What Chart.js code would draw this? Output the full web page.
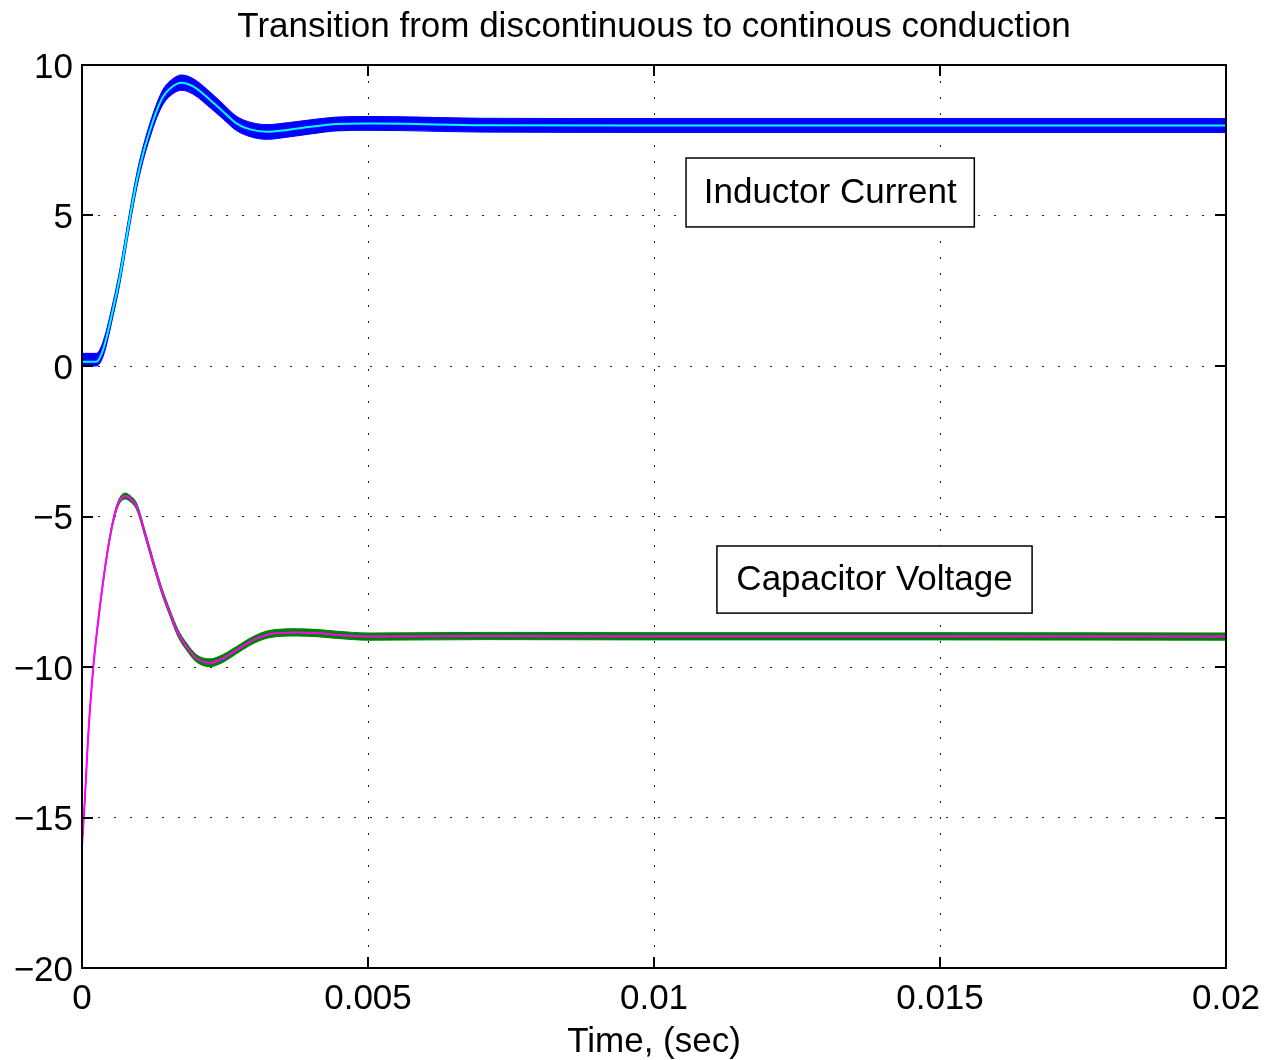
<!DOCTYPE html>
<html>
<head>
<meta charset="utf-8">
<script src="https://cdn.jsdelivr.net/npm/chart.js@4"></script>
<style>
  body { margin: 0; background: #fff; }
  #wrap { width: 1268px; height: 1060px; }
</style>
</head>
<body>
<div id="wrap"><canvas id="myChart" width="1268" height="1060"></canvas></div>
<script>
// inductor current (time in sec, value), center trace and ripple envelope
const iTime = [0, 0.00025, 0.00037, 0.00055, 0.00066, 0.00084, 0.00096, 0.00107, 0.00119, 0.00131,
  0.00142, 0.00154, 0.00174, 0.00195, 0.00224, 0.00247, 0.0027, 0.00294, 0.00323, 0.00358,
  0.004, 0.00445, 0.005, 0.0056, 0.007, 0.01, 0.015, 0.02];
const iCenter = [0.14, 0.14, 0.55, 1.95, 2.95, 4.96, 6.18, 7.07, 7.84, 8.5,
  8.95, 9.22, 9.41, 9.28, 8.84, 8.45, 8.06, 7.86, 7.78, 7.84,
  7.95, 8.04, 8.06, 8.05, 8.0, 7.99, 7.99, 7.99];
const iUpper = [0.42, 0.42, 0.82, 2.18, 3.19, 5.2, 6.42, 7.3, 8.08, 8.74,
  9.2, 9.47, 9.67, 9.54, 9.1, 8.7, 8.3, 8.1, 8.02, 8.08,
  8.18, 8.27, 8.29, 8.28, 8.23, 8.22, 8.22, 8.22];
const iLower = [0.0, 0.0, 0.32, 1.72, 2.71, 4.72, 5.94, 6.83, 7.6, 8.26,
  8.7, 8.97, 9.16, 9.02, 8.58, 8.2, 7.82, 7.62, 7.53, 7.6,
  7.71, 7.81, 7.83, 7.82, 7.77, 7.76, 7.76, 7.76];

// capacitor voltage
const vTime = [0, 0.000052, 0.000111, 0.000198, 0.000285, 0.000373, 0.00046, 0.000548, 0.000635, 0.000752,
  0.000868, 0.000956, 0.0011, 0.00125, 0.00139, 0.00154, 0.00168, 0.00183, 0.002, 0.00224,
  0.00247, 0.0027, 0.003, 0.00329, 0.00375, 0.00416, 0.00445, 0.00503, 0.00708, 0.01, 0.015, 0.02];
const vCenter = [-15.97, -14.31, -12.2, -9.99, -8.44, -7.11, -6.0, -5.12, -4.56, -4.32,
  -4.45, -4.67, -5.56, -6.56, -7.44, -8.22, -8.88, -9.33, -9.71, -9.86,
  -9.71, -9.44, -9.1, -8.9, -8.85, -8.88, -8.93, -8.99, -8.97, -8.98, -8.98, -8.99];
const vUpper = [-15.93, -14.26, -12.14, -9.92, -8.36, -7.03, -5.92, -5.04, -4.47, -4.22,
  -4.35, -4.56, -5.45, -6.45, -7.33, -8.11, -8.76, -9.21, -9.59, -9.73,
  -9.58, -9.32, -8.98, -8.78, -8.73, -8.76, -8.81, -8.87, -8.85, -8.86, -8.86, -8.87];
const vLower = [-16.01, -14.36, -12.26, -10.06, -8.52, -7.19, -6.08, -5.2, -4.65, -4.42,
  -4.55, -4.78, -5.67, -6.67, -7.55, -8.33, -9.0, -9.45, -9.83, -9.99,
  -9.84, -9.56, -9.22, -9.02, -8.97, -9.0, -9.05, -9.11, -9.09, -9.1, -9.1, -9.11];

const xTicks = [0, 0.005, 0.01, 0.015, 0.02];
const xTickLabels = ["0", "0.005", "0.01", "0.015", "0.02"];
const yTicks = [-20, -15, -10, -5, 0, 5, 10];
const yTickLabels = ["\u221220", "\u221215", "\u221210", "\u22125", "0", "5", "10"];

const FONT = "'Liberation Sans', Arial, Helvetica, sans-serif";

const pts = (xs, ys) => xs.map((x, i) => ({ x: x, y: ys[i] }));

const lineBase = {
  pointRadius: 0,
  cubicInterpolationMode: "monotone",
};

// MATLAB-like box, inward ticks and text boxes
const boxPlugin = {
  id: "matlabBox",
  afterDatasetsDraw(chart, args, opts) {
    const { ctx, chartArea: a, scales } = chart;
    const tl = 11;
    ctx.save();
    ctx.strokeStyle = "#000";
    ctx.lineWidth = 2;
    ctx.beginPath();
    xTicks.forEach((v) => {
      const px = Math.round(scales.x.getPixelForValue(v));
      ctx.moveTo(px, a.bottom); ctx.lineTo(px, a.bottom - tl);
      ctx.moveTo(px, a.top); ctx.lineTo(px, a.top + tl);
    });
    yTicks.forEach((v) => {
      const py = Math.round(scales.y.getPixelForValue(v));
      ctx.moveTo(a.left, py); ctx.lineTo(a.left + tl, py);
      ctx.moveTo(a.right, py); ctx.lineTo(a.right - tl, py);
    });
    ctx.stroke();
    ctx.strokeRect(a.left, a.top, a.right - a.left, a.bottom - a.top);

    // text boxes
    ctx.font = "35px " + FONT;
    ctx.textAlign = "center";
    ctx.textBaseline = "middle";
    opts.labels.forEach((lb) => {
      const x0 = scales.x.getPixelForValue(lb.x0);
      const x1 = scales.x.getPixelForValue(lb.x1);
      const y0 = scales.y.getPixelForValue(lb.y0);
      const y1 = scales.y.getPixelForValue(lb.y1);
      ctx.fillStyle = "#fff";
      ctx.fillRect(x0, y0, x1 - x0, y1 - y0);
      ctx.lineWidth = 1.5;
      ctx.strokeStyle = "#000";
      ctx.strokeRect(x0, y0, x1 - x0, y1 - y0);
      ctx.fillStyle = "#000";
      ctx.fillText(lb.text, (x0 + x1) / 2, (y0 + y1) / 2 + 1);
    });
    ctx.restore();
  },
};

const ctx = document.getElementById("myChart").getContext("2d");
new Chart(ctx, {
  type: "line",
  data: {
    datasets: [
      { ...lineBase, label: "iUpper", data: pts(iTime, iUpper), borderColor: "#0000ff", borderWidth: 1,
        backgroundColor: "#0000ff", fill: "+1", order: 4 },
      { ...lineBase, label: "iLower", data: pts(iTime, iLower), borderColor: "#0000ff", borderWidth: 1,
        fill: false, order: 4 },
      { ...lineBase, label: "Inductor Current", data: pts(iTime, iCenter), borderColor: "#00ffff",
        borderWidth: 2, fill: false, order: 1 },
      { ...lineBase, label: "vUpper", data: pts(vTime, vUpper), borderColor: "#008000", borderWidth: 1,
        backgroundColor: "#008000", fill: "+1", order: 4 },
      { ...lineBase, label: "vLower", data: pts(vTime, vLower), borderColor: "#008000", borderWidth: 1,
        fill: false, order: 4 },
      { ...lineBase, label: "Capacitor Voltage", data: pts(vTime, vCenter), borderColor: "#ff00ff",
        borderWidth: 2, fill: false, order: 1 },
    ],
  },
  options: {
    responsive: false,
    animation: false,
    layout: { padding: { left: 0, right: 42, top: 0, bottom: 0 } },
    plugins: {
      legend: { display: false },
      tooltip: { enabled: false },
      title: {
        display: true,
        fullSize: false,
        text: "Transition from discontinuous to continous conduction",
        color: "#000",
        font: { family: FONT, size: 35, weight: "normal", lineHeight: 1.2 },
        padding: { top: 6, bottom: 17 },
      },
      matlabBox: {
        labels: [
          { text: "Inductor Current", x0: 0.01056, x1: 0.0156, y0: 6.91, y1: 4.62 },
          { text: "Capacitor Voltage", x0: 0.0111, x1: 0.01661, y0: -5.98, y1: -8.21 },
        ],
      },
    },
    scales: {
      x: {
        type: "linear",
        min: 0,
        max: 0.02,
        afterBuildTicks: (s) => { s.ticks = xTicks.map((v) => ({ value: v })); },
        afterFit: (s) => { s.height = 92; s.paddingLeft = 0; s.paddingRight = 0; },
        ticks: {
          color: "#000",
          font: { family: FONT, size: 35 },
          padding: 10,
          maxRotation: 0,
          callback: (v, i) => xTickLabels[i],
        },
        grid: { color: "#222", lineWidth: 1, drawTicks: false },
        border: { display: false, dash: [2, 14] },
        title: {
          display: true,
          text: "Time, (sec)",
          color: "#000",
          font: { family: FONT, size: 35 },
          padding: { top: 0, bottom: -3 },
        },
      },
      y: {
        min: -20,
        max: 10,
        afterBuildTicks: (s) => { s.ticks = yTicks.map((v) => ({ value: v })); },
        afterFit: (s) => { s.width = 82; s.paddingTop = 0; s.paddingBottom = 0; },
        ticks: {
          color: "#000",
          font: { family: FONT, size: 35 },
          padding: 9,
          labelOffset: 3,
          callback: (v, i) => yTickLabels[i],
        },
        grid: { color: "#222", lineWidth: 1, drawTicks: false },
        border: { display: false, dash: [2, 14] },
      },
    },
  },
  plugins: [boxPlugin],
});
</script>
</body>
</html>
